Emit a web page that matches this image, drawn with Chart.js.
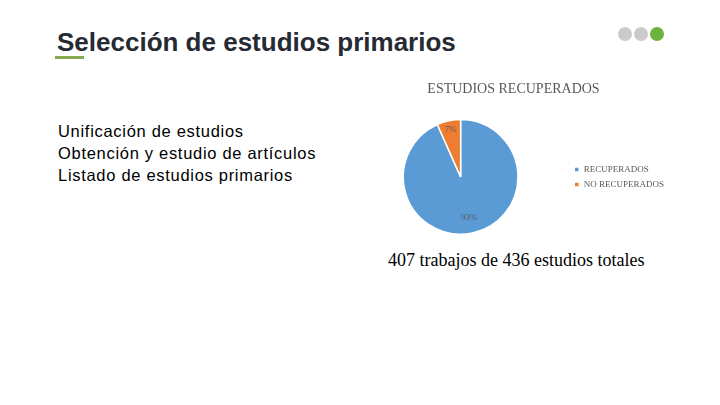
<!DOCTYPE html>
<html>
<head>
<meta charset="utf-8">
<script src="https://cdn.jsdelivr.net/npm/chart.js@4/dist/chart.umd.min.js"></script>
<style>
  html, body { margin: 0; padding: 0; background: #fff; }
  #slide { position: relative; width: 720px; height: 405px; overflow: hidden; font-family: "Liberation Sans", Arial, sans-serif; }
  #titulo { position: absolute; left: 57px; top: 27px; font-size: 26px; font-weight: bold; color: #262a33; }
  #raya { position: absolute; left: 55px; top: 56px; width: 29px; height: 3px; background: #86ab4f; }
  .punto { position: absolute; top: 27px; width: 14px; height: 14px; border-radius: 50%; background: #cbcbcb; }
  #lista { position: absolute; left: 58px; top: 120px; font-size: 16.5px; letter-spacing: 0.7px; line-height: 22px; color: #000; }
  #pie_txt { position: absolute; left: 388px; top: 250px; font-family: "Liberation Serif", "Times New Roman", serif; font-size: 18px; color: #000; }
  #caja { position: absolute; left: 353px; top: 80px; width: 322px; height: 155px; }
</style>
</head>
<body>
<div id="slide">
  <div id="titulo">Selección de estudios primarios</div>
  <div id="raya"></div>
  <div class="punto" style="left:618px"></div>
  <div class="punto" style="left:634px"></div>
  <div class="punto" style="left:650px;background:#6cb33e"></div>
  <div id="lista">Unificación de estudios<br>Obtención y estudio de artículos<br>Listado de estudios primarios</div>
  <div id="caja"><canvas id="myChart"></canvas></div>
  <div id="pie_txt">407 trabajos de 436 estudios totales</div>
</div>
<script>
// datos del grafico
var categorias = ["RECUPERADOS", "NO RECUPERADOS"];
var valores = [407, 29];
var colores = ["#5b9bd5", "#ed7d31"];
var titulo = "ESTUDIOS RECUPERADOS";

// etiquetas de porcentaje sobre cada porcion
var etiquetas = {
  id: "etiquetas",
  afterDatasetsDraw: function(chart) {
    var ctx = chart.ctx;
    var meta = chart.getDatasetMeta(0);
    var total = valores[0] + valores[1];
    var fracs = [0.72, 0.84];
    ctx.save();
    ctx.font = "9px 'Liberation Serif', serif";
    ctx.fillStyle = "#595959";
    ctx.textAlign = "center";
    ctx.textBaseline = "middle";
    meta.data.forEach(function(arc, i) {
      var p = arc.getProps(["x", "y", "startAngle", "endAngle", "outerRadius"], true);
      var ang = (p.startAngle + p.endAngle) / 2;
      var r = p.outerRadius * fracs[i];
      var pct = Math.round(valores[i] / total * 100) + "%";
      ctx.fillText(pct, p.x + Math.cos(ang) * r, p.y + Math.sin(ang) * r);
    });
    ctx.restore();
  }
};

new Chart("myChart", {
  type: "pie",
  data: {
    labels: categorias,
    datasets: [{
      backgroundColor: colores,
      borderColor: "#ffffff",
      borderWidth: 1.5,
      data: valores
    }]
  },
  options: {
    responsive: true,
    maintainAspectRatio: false,
    animation: false,
    layout: { padding: { right: 1 } },
    plugins: {
      title: {
        display: true,
        text: titulo,
        color: "#595959",
        font: { family: "'Liberation Serif', serif", size: 14, weight: "normal" },
        padding: { top: 1, bottom: 21 }
      },
      legend: {
        position: "right",
        fullSize: false,
        labels: {
          boxWidth: 5,
          boxHeight: 5,
          padding: 6,
          color: "#595959",
          font: { family: "'Liberation Serif', serif", size: 9 }
        }
      },
      tooltip: { enabled: false }
    }
  },
  plugins: [etiquetas]
});
</script>
</body>
</html>
